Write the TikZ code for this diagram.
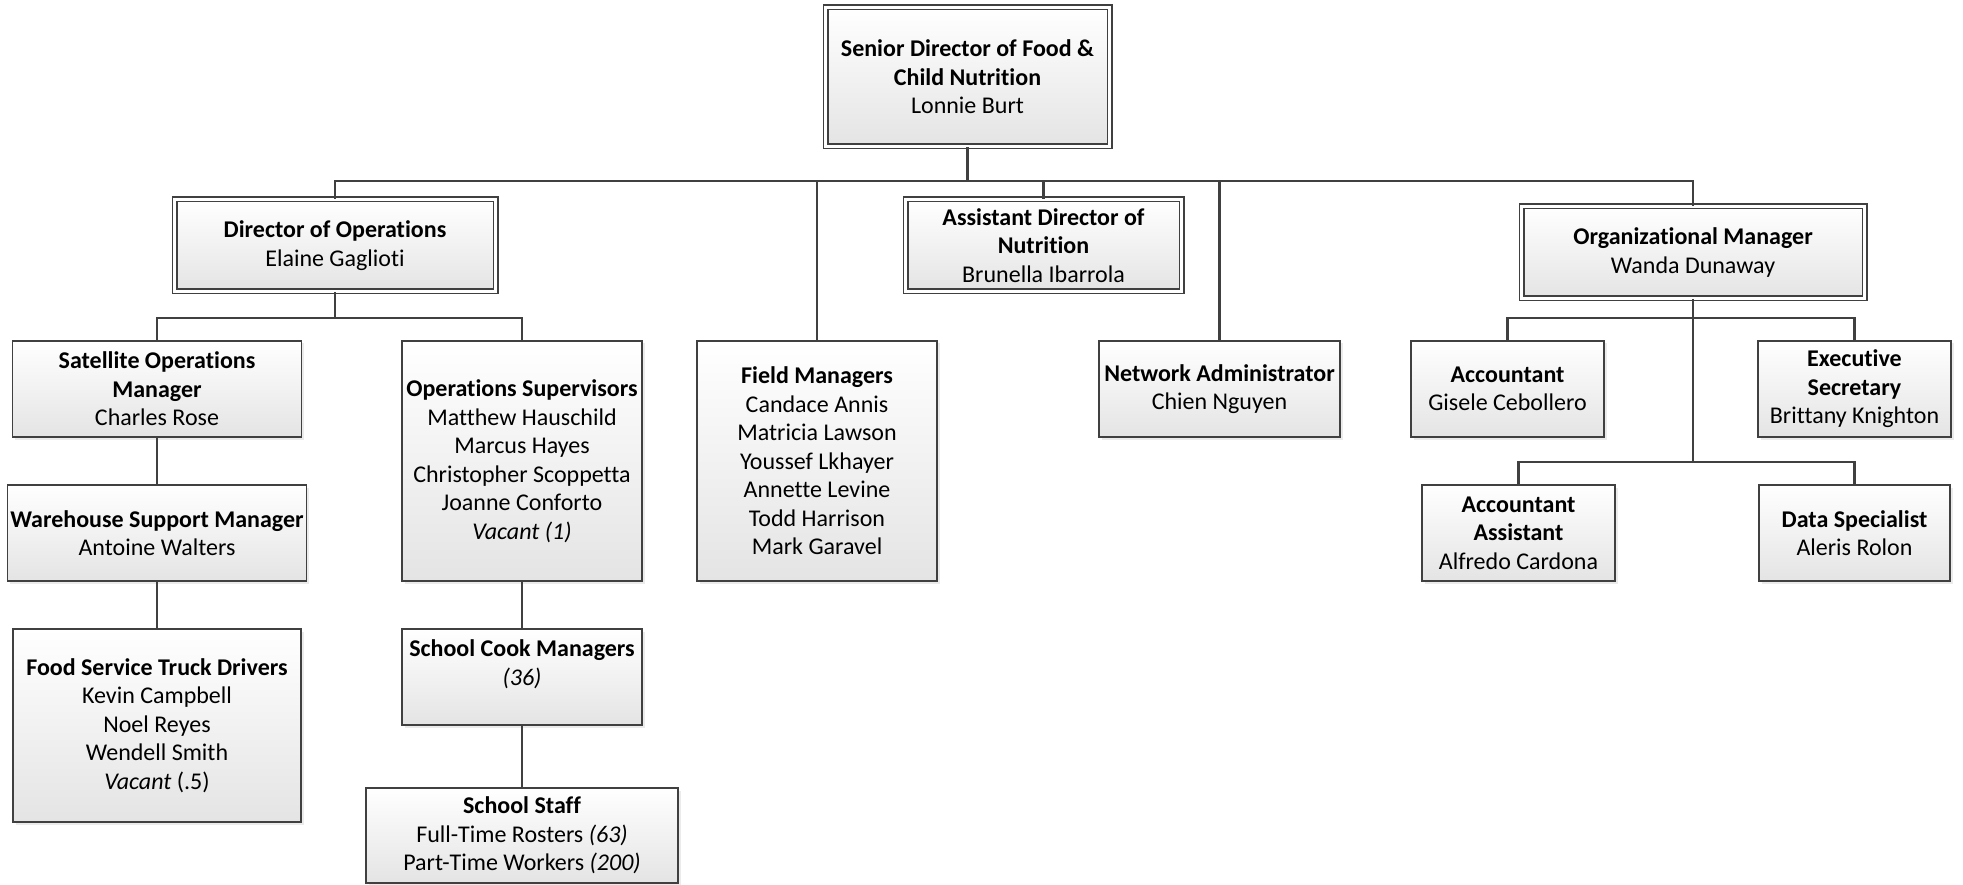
\documentclass[tikz,border=0pt]{standalone}
\usepackage{fontspec}
\setmainfont{Carlito}[Ligatures=NoCommon]
\usetikzlibrary{shadows}
\definecolor{lineclr}{HTML}{404040}
\definecolor{boxbot}{HTML}{E4E4E4}
\begin{document}
\begin{tikzpicture}[x=1pt,y=1pt,
  box/.style={draw=lineclr, line width=1.7pt, top color=white, bottom color=boxbot,
    align=center, inner sep=0pt, font=\fontsize{24}{28.5}\selectfont,
    drop shadow={shadow xshift=2.5pt, shadow yshift=-2.5pt, fill=black!15}},
  dbox/.style={box, double=white, double distance=2.6pt},
  conn/.style={draw=lineclr, line width=2.5pt},
]
\fill[white] (0,0) rectangle (1963,-885);
\useasboundingbox (0,0) rectangle (1963,-885);

% top level
\node[dbox, minimum width=284pt, minimum height=139pt] (sen) at (967.5,-77)
  {\textbf{Senior Director of Food \&}\\\textbf{Child Nutrition}\\Lonnie Burt};

% second level
\node[dbox, minimum width=321pt, minimum height=92pt] (dirops) at (335,-245.5)
  {\textbf{Director of Operations}\\Elaine Gaglioti};
\node[dbox, minimum width=276pt, minimum height=92pt] (asstdir) at (1043.5,-245.5)
  {\textbf{Assistant Director of}\\\textbf{Nutrition}\\Brunella Ibarrola};
\node[dbox, minimum width=343pt, minimum height=92pt] (orgmgr) at (1693,-252.5)
  {\textbf{Organizational Manager}\\Wanda Dunaway};
\node[box, minimum width=240pt, minimum height=240pt] (fieldmgr) at (817,-461)
  {\textbf{Field Managers}\\Candace Annis\\Matricia Lawson\\Youssef Lkhayer\\Annette Levine\\Todd Harrison\\Mark Garavel};
\node[box, minimum width=241pt, minimum height=96pt] (netadmin) at (1219.5,-389)
  {\textbf{Network Administrator}\\Chien Nguyen};

% operations branch
\node[box, minimum width=289pt, minimum height=96pt] (satellite) at (157,-389)
  {\textbf{Satellite Operations}\\\textbf{Manager}\\Charles Rose};
\node[box, minimum width=299pt, minimum height=96pt] (warehouse) at (157,-533)
  {\textbf{Warehouse Support Manager}\\Antoine Walters};
\node[box, minimum width=288pt, minimum height=193pt] (foodsvc) at (157,-725.5)
  {\textbf{Food Service Truck Drivers}\\Kevin Campbell\\Noel Reyes\\Wendell Smith\\\textit{Vacant} (.5)};
\node[box, minimum width=240pt, minimum height=240pt] (opssup) at (522,-461)
  {\textbf{Operations Supervisors}\\Matthew Hauschild\\Marcus Hayes\\Christopher Scoppetta\\Joanne Conforto\\\textit{Vacant (1)}};
\node[box, minimum width=240pt, minimum height=96pt] (schoolcook) at (522,-677)
  {\textbf{School Cook Managers}\\\textit{(36)}\\~};
\node[box, minimum width=312pt, minimum height=95pt] (schoolstaff) at (522,-835.5)
  {\textbf{School Staff}\\Full-Time Rosters \textit{(63)}\\Part-Time Workers \textit{(200)}};

% organizational branch
\node[box, minimum width=193pt, minimum height=96pt] (accountant) at (1507.5,-389)
  {\textbf{Accountant}\\Gisele Cebollero};
\node[box, minimum width=193pt, minimum height=96pt] (execsec) at (1854.5,-389)
  {\textbf{Executive}\\\textbf{Secretary}\\Brittany Knighton};
\node[box, minimum width=193pt, minimum height=96pt] (accasst) at (1518.5,-533)
  {\textbf{Accountant}\\\textbf{Assistant}\\Alfredo Cardona};
\node[box, minimum width=191pt, minimum height=96pt] (dataspec) at (1854.5,-533)
  {\textbf{Data Specialist}\\Aleris Rolon};

% connectors
\coordinate (bus) at (0,-181);
\coordinate (dsplit) at (0,-318);
\coordinate (osplit1) at (0,-318);
\coordinate (osplit2) at (0,-462);

\draw[conn] (sen.south) -- (sen.south |- bus);
\draw[conn] (dirops.north) -- (dirops.north |- bus) -- (orgmgr.north |- bus) -- (orgmgr.north);
\draw[conn] (fieldmgr.north) -- (fieldmgr.north |- bus);
\draw[conn] (asstdir.north) -- (asstdir.north |- bus);
\draw[conn] (netadmin.north) -- (netadmin.north |- bus);

\draw[conn] (dirops.south) -- (dirops.south |- dsplit);
\draw[conn] (satellite.north) -- (satellite.north |- dsplit) -- (opssup.north |- dsplit) -- (opssup.north);
\draw[conn] (satellite.south) -- (warehouse.north);
\draw[conn] (warehouse.south) -- (foodsvc.north);
\draw[conn] (opssup.south) -- (schoolcook.north);
\draw[conn] (schoolcook.south) -- (schoolstaff.north);

\draw[conn] (orgmgr.south) -- (orgmgr.south |- osplit2);
\draw[conn] (accountant.north) -- (accountant.north |- osplit1) -- (execsec.north |- osplit1) -- (execsec.north);
\draw[conn] (accasst.north) -- (accasst.north |- osplit2) -- (dataspec.north |- osplit2) -- (dataspec.north);
\end{tikzpicture}
\end{document}
